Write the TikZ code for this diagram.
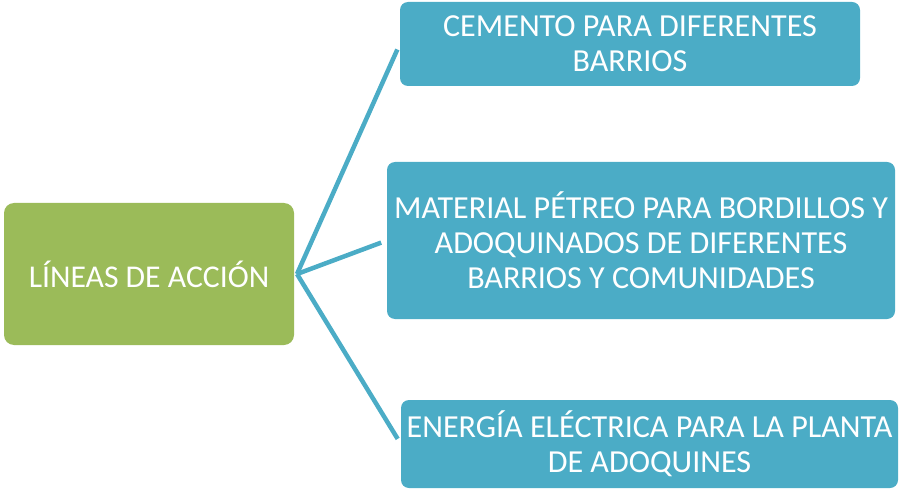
\documentclass[tikz,border=0pt]{standalone}
\usepackage{fontspec}
\setmainfont{Carlito}
\definecolor{olivegreen}{HTML}{9BBB59}
\definecolor{aquablue}{HTML}{4BACC6}
\begin{document}
\begin{tikzpicture}[x=1pt,y=-1pt,
  box/.style={fill=aquablue, rounded corners=8pt, inner sep=0pt, align=center,
    text=white, font=\fontsize{32.1}{35}\selectfont},
  mainbox/.style={fill=olivegreen, rounded corners=10pt, inner sep=0pt, align=center,
    text=white, font=\fontsize{31.7}{35}\selectfont, minimum width=290pt, minimum height=142pt},
  link/.style={draw=aquablue, line width=4.5pt, shorten >=6pt}]
\useasboundingbox (0,0) rectangle (899,489);
\node[mainbox] (g) at (149,274) {LÍNEAS DE ACCIÓN};
\node[box, minimum width=460pt, minimum height=84pt] (t) at (630,44) {CEMENTO PARA DIFERENTES\\BARRIOS};
\node[box, minimum width=508pt, minimum height=157pt] (m) at (641,240.5) {MATERIAL PÉTREO PARA BORDILLOS Y\\ADOQUINADOS DE DIFERENTES\\BARRIOS Y COMUNIDADES};
\node[box, minimum width=497pt, minimum height=88pt] (b) at (649.5,444) {ENERGÍA ELÉCTRICA PARA LA PLANTA\\DE ADOQUINES};
\coordinate (hub) at (297,274);
\draw[link] (hub) -- (t.west);
\draw[link] (hub) -- (m.west);
\draw[link] (hub) -- (b.west);
\end{tikzpicture}
\end{document}
